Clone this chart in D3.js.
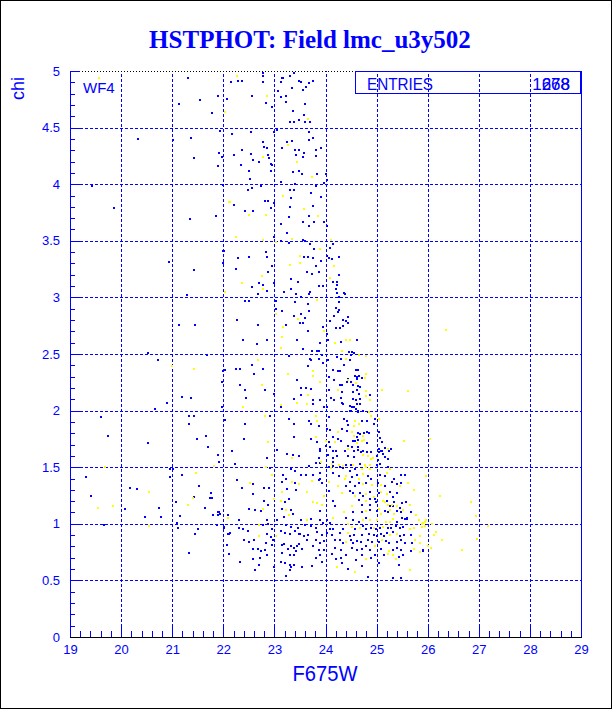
<!DOCTYPE html>
<html>
<head>
<meta charset="utf-8">
<script src="https://cdn.jsdelivr.net/npm/d3@7"></script>
<style>
  body { margin: 0; background: #fff; }
  svg { display: block; }
  text { font-family: "Liberation Sans", Arial, sans-serif; }
</style>
</head>
<body>
<script>
const width = 612;
const height = 709;

const xTicks = [19, 20, 21, 22, 23, 24, 25, 26, 27, 28, 29];
const yTicks = [0, 0.5, 1, 1.5, 2, 2.5, 3, 3.5, 4, 4.5, 5];
const yTickLabels = ['0', '0.5', '1', '1.5', '2', '2.5', '3', '3.5', '4', '4.5', '5'];
const entries = ['1678', '268'];

// [F675W, chi]
const blue = [
  [21.30,4.94],[21.89,4.78],[22.07,4.75],[21.13,4.71],[21.54,4.74],[21.78,4.63],[21.93,4.47],[20.34,4.40],[21.01,4.39],[21.36,4.41],
  [21.91,4.28],[21.98,4.24],[21.42,4.23],[21.89,4.16],[21.99,3.99],[19.44,3.98],[19.86,3.79],[21.34,3.69],[21.86,3.72],[22.01,3.41],
  [20.94,3.31],[21.43,3.24],[21.99,3.30],[21.28,3.02],[21.13,2.76],[21.45,2.76],[20.52,2.51],[20.72,2.45],[21.69,2.49],
  [22.00,2.35],[21.97,2.25],[21.19,2.12],[21.37,2.11],[20.90,2.07],[21.97,2.03],[20.66,2.01],[19.61,1.94],[21.33,1.95],[21.43,1.95],
  [22.04,1.92],[21.33,1.88],[19.74,1.78],[21.67,1.78],[21.48,1.75],[20.53,1.71],[21.71,1.68],[21.89,1.61],[21.92,1.55],[20.95,1.48],
  [21.01,1.48],[21.19,1.43],[19.31,1.41],[20.96,1.41],[21.52,1.33],[20.17,1.32],[20.31,1.31],[21.76,1.27],[19.42,1.25],[21.43,1.24],
  [21.73,1.23],[21.78,1.23],[21.07,1.19],[20.08,1.13],[20.74,1.14],[21.64,1.14],[21.92,1.10],[21.80,1.08],[21.89,1.08],[22.09,1.08],
  [20.78,1.06],[20.47,1.06],[21.15,1.07],[21.09,1.01],[19.66,0.99],[21.87,0.99],[21.11,0.96],[22.01,0.96],[21.50,0.95],[21.45,0.91],
  [22.11,0.91],[22.07,0.81],[22.11,0.73],[21.33,0.74],
  [22.78,4.98],[22.77,4.96],[22.15,4.90],[22.28,4.91],[22.37,4.91],[22.77,4.90],[23.15,4.94],[23.17,4.94],[23.31,4.96],[23.39,4.98],
  [23.49,4.91],[23.53,4.90],[23.76,4.91],[23.13,4.90],[23.34,4.85],[23.56,4.83],[23.61,4.86],[23.68,4.89],[23.08,4.82],[22.56,4.78],
  [23.13,4.77],[23.22,4.78],[23.23,4.73],[22.83,4.72],[23.59,4.71],[22.95,4.68],[23.36,4.65],[23.58,4.61],[23.48,4.57],
  [23.31,4.55],[23.39,4.55],[23.60,4.55],[23.69,4.55],[23.06,4.48],[23.00,4.46],[23.67,4.46],[22.54,4.46],[22.18,4.44],[23.68,4.39],
  [23.75,4.41],[22.78,4.37],[23.24,4.37],[23.34,4.38],[23.15,4.32],[22.79,4.33],[22.85,4.32],[23.40,4.30],[23.48,4.30],[23.57,4.28],
  [23.91,4.32],[23.81,4.30],[22.37,4.30],[22.20,4.26],[22.54,4.27],[22.87,4.26],[23.42,4.26],[23.81,4.25],[22.89,4.23],[23.55,4.24],
  [22.59,4.21],[22.70,4.20],[22.94,4.18],[22.96,4.17],[22.34,4.17],[23.36,4.11],[23.48,4.12],[23.54,4.09],[22.50,4.12],[22.93,4.12],
  [22.52,4.05],[23.12,4.02],[23.83,4.09],[24.00,4.09],[23.98,4.01],[23.82,3.98],[24.02,4.04],[23.31,3.95],[23.38,3.95],[22.48,3.95],
  [22.56,3.97],[22.74,3.98],[23.40,4.00],[23.72,3.92],[23.91,3.89],[23.33,3.88],[22.82,3.85],[22.87,3.85],[22.99,3.83],[23.76,3.81],
  [22.93,3.79],[23.30,3.80],[22.20,3.82],[22.42,3.76],[22.59,3.76],[23.28,3.71],[23.67,3.72],[23.77,3.67],[23.98,3.67],[23.55,3.67],
  [23.13,3.65],[24.02,3.63],[23.68,3.63],[23.25,3.57],[22.99,3.53],[23.12,3.50],[23.29,3.48],[23.56,3.51],[23.60,3.50],[23.70,3.47],
  [23.77,3.43],[24.08,3.44],[24.15,3.47],[22.00,3.41],[22.83,3.40],[23.57,3.36],[23.66,3.36],[23.75,3.35],[24.03,3.37],[24.07,3.35],
  [24.13,3.34],[24.26,3.36],[22.29,3.35],[22.51,3.36],[22.86,3.36],
  [22.95,3.28],[23.81,3.28],[23.92,3.32],[22.24,3.25],[22.87,3.22],[23.64,3.22],[23.74,3.21],[23.88,3.22],[24.26,3.20],[23.32,3.16],
  [23.46,3.14],[24.15,3.14],[24.22,3.14],[24.22,3.11],[22.70,3.13],[22.78,3.11],[23.00,3.13],[23.88,3.10],[23.95,3.10],[22.56,3.09],
  [22.86,3.06],[23.19,3.05],[23.33,3.07],[24.20,3.07],[23.70,3.05],[23.43,3.03],[23.53,3.00],[22.67,3.03],[23.68,3.03],[24.23,3.04],
  [24.36,3.04],[24.38,3.03],[24.26,3.00],[24.26,2.96],[22.43,2.97],[22.50,2.97],[23.04,2.97],[23.40,2.96],[23.65,2.94],[23.04,2.90],
  [23.15,2.88],[23.67,2.88],[24.20,2.91],[24.26,2.89],[24.25,2.87],[23.38,2.84],[23.53,2.85],[24.17,2.84],[24.45,2.83],[23.59,2.82],
  [24.09,2.79],[24.34,2.80],[22.26,2.80],[24.41,2.79],[24.45,2.77],[23.50,2.77],[23.56,2.77],[22.67,2.76],[23.23,2.76],[24.34,2.75],
  [23.96,2.74],[24.21,2.73],[24.28,2.73],[23.66,2.70],[24.03,2.68],[23.45,2.62],[22.85,2.62],[24.04,2.62],[24.30,2.61],[24.62,2.62],
  [23.90,2.60],[22.38,2.62],[22.65,2.59],[23.74,2.53],[23.83,2.53],[23.87,2.53],[23.55,2.54],[24.46,2.52],[24.52,2.52],[24.56,2.51],
  [24.49,2.49],[23.70,2.46],[23.72,2.45],[23.88,2.46],[23.94,2.49],[24.05,2.45],[24.22,2.47],[24.30,2.46],[24.48,2.45],[23.28,2.48],
  [22.57,2.40],[23.66,2.39],[23.95,2.42],[24.36,2.40],[22.04,2.36],[22.25,2.37],[22.32,2.37],[22.77,2.37],[24.15,2.36],[24.24,2.35],
  [24.29,2.35],[24.59,2.36],[24.64,2.36],[22.61,2.32],[24.06,2.30],[24.57,2.31],[24.61,2.30],[22.32,2.23],[23.45,2.27],
  [24.17,2.27],[24.29,2.23],[24.32,2.23],[24.44,2.28],[24.43,2.25],[24.49,2.25],[24.63,2.22],[24.67,2.21],[22.42,2.18],[22.81,2.18],
  [23.53,2.20],[23.62,2.20],[23.72,2.19],[24.07,2.18],[24.33,2.16],[24.53,2.16],[24.61,2.18],[24.66,2.15],[22.99,2.15],[22.45,2.11],
  [23.38,2.10],[23.52,2.14],[23.76,2.09],[23.89,2.09],[24.11,2.11],[24.17,2.09],[24.31,2.11],[24.32,2.07],[24.34,2.06],[24.54,2.10],
  [24.60,2.09],[24.68,2.10],[24.62,2.06],[24.67,2.06],[23.75,2.06],[23.12,2.03],[23.98,2.03],[24.02,2.03],[24.47,2.04],[24.52,2.03],
  [24.56,2.03],[24.60,2.01],[24.64,2.00],[24.47,2.00],[24.50,2.00],[24.64,1.99],[24.74,2.00],[24.83,1.99],[22.04,1.92],[22.92,1.95],
  [23.28,1.93],[23.68,1.91],[24.07,1.94],[24.36,1.93],[24.43,1.91],[24.45,1.87],[24.72,1.91],[24.81,1.91],[22.42,1.88],[23.39,1.88],
  [23.71,1.88],[23.87,1.86],[24.02,1.84],[24.08,1.83],[24.33,1.84],[24.43,1.82],[24.64,1.80],[24.68,1.79],[24.75,1.80],[24.82,1.81],
  [23.38,1.77],[23.72,1.75],[24.15,1.77],[24.24,1.75],[24.62,1.77],[24.86,1.80],[22.40,1.75],[23.84,1.72],[24.07,1.72],[24.30,1.73],
  [24.54,1.73],[24.58,1.73],[24.64,1.74],[24.81,1.71],[24.00,1.69],[24.08,1.68],[24.45,1.69],[24.52,1.68],[24.63,1.68],[22.18,1.64],
  [23.06,1.65],[23.37,1.61],[23.24,1.62],[23.48,1.60],[23.89,1.66],[23.89,1.64],[24.15,1.64],[24.21,1.64],[24.38,1.64],[24.56,1.64],
  [24.63,1.65],[24.69,1.63],[24.73,1.64],[24.81,1.63],[24.05,1.61],[24.15,1.58],[24.23,1.60],[24.45,1.60],[24.55,1.59],[22.85,1.58],
  [23.88,1.58],
  [24.88,2.14],[24.97,1.93],[24.95,1.88],[25.05,1.81],[25.07,1.76],[25.11,1.72],[25.16,1.67],[25.28,1.66],[25.05,1.66],[25.10,1.64],
  [25.13,1.62],[25.00,1.60],[24.62,2.28],[24.54,2.23],[24.71,2.29],[24.58,2.31],[24.65,2.31],
  [22.23,1.53],[22.92,1.49],[23.16,1.43],[23.33,1.48],[23.41,1.47],[23.23,1.40],[23.14,1.37],[23.40,1.36],[22.26,1.39],[22.36,1.32],
  [22.58,1.35],[22.80,1.32],[22.89,1.32],[22.58,1.26],[23.24,1.31],[23.42,1.30],[22.79,1.20],[23.20,1.19],[23.28,1.22],[22.87,1.17],
  [22.50,1.13],[22.63,1.12],[22.73,1.11],[21.90,1.10],[21.93,1.09],[22.09,1.08],[23.14,1.13],[23.32,1.12],[23.19,1.06],[23.37,1.09],
  [22.30,1.03],[22.86,1.03],[22.88,1.00],[22.78,0.99],[23.06,1.03],[23.23,0.99],[23.33,0.97],[23.46,0.96],[21.87,0.99],[22.01,0.97],
  [22.31,0.96],[22.39,0.95],[22.48,0.94],[22.14,0.92],[22.10,0.91],[22.86,0.91],[22.95,0.95],[22.93,0.88],[22.98,0.86],[23.12,0.94],
  [23.21,0.92],[23.30,0.91],[23.40,0.94],[23.49,0.91],[22.07,0.81],[22.41,0.86],[22.50,0.84],[22.61,0.86],[22.83,0.83],[22.96,0.81],
  [23.15,0.81],[23.19,0.82],[23.26,0.78],[23.33,0.80],[23.38,0.79],[23.44,0.80],[23.48,0.82],[23.43,0.76],[22.11,0.73],[22.58,0.78],
  [22.68,0.78],[22.74,0.76],[22.82,0.77],[22.86,0.72],[22.58,0.69],[22.71,0.70],[23.14,0.74],[23.31,0.72],[23.39,0.72],[22.33,0.66],
  [22.69,0.64],[23.13,0.66],[23.21,0.65],[23.31,0.64],[23.33,0.62],[23.38,0.64],[22.62,0.59],[22.99,0.62],[23.31,0.59],[23.22,0.54],
  [24.89,1.63],[25.05,1.63],[25.09,1.64],[25.13,1.62],[25.25,1.64],[25.03,1.56],[25.16,1.59],[25.22,1.57],
  [23.81,1.54],[23.90,1.54],[24.15,1.55],[24.41,1.52],[24.49,1.52],[24.67,1.53],[25.01,1.52],[25.07,1.53],[25.22,1.50],[23.67,1.51],
  [24.07,1.50],[24.15,1.51],[24.28,1.50],[24.47,1.47],[24.57,1.48],[24.35,1.49],
  [23.52,1.43],[23.61,1.43],[23.75,1.43],[23.89,1.45],[23.90,1.40],[24.15,1.45],[24.26,1.42],[24.52,1.41],[24.62,1.43],[24.84,1.42],
  [24.90,1.40],[25.07,1.43],[25.16,1.42],[25.34,1.40],[25.48,1.43],[25.55,1.43],
  [23.87,1.39],[23.94,1.36],[24.41,1.33],[24.48,1.37],[24.58,1.33],[24.65,1.36],[24.80,1.36],[25.02,1.36],[25.17,1.33],[25.31,1.37],
  [25.39,1.35],[25.48,1.36],
  [24.06,1.29],[24.47,1.29],[24.53,1.27],[24.67,1.27],[24.73,1.25],[24.88,1.28],[25.04,1.27],[25.26,1.28],[25.33,1.24],[25.39,1.27],
  [24.15,1.20],[24.65,1.21],[24.88,1.22],[24.96,1.22],[25.21,1.20],[25.34,1.19],
  [24.18,1.16],[24.71,1.17],[24.88,1.17],[24.99,1.19],[25.27,1.16],[25.33,1.16],[25.46,1.14],[25.50,1.18],[25.57,1.19],
  [23.90,1.11],[24.54,1.10],[24.71,1.10],[24.87,1.12],[25.01,1.11],[25.16,1.11],[25.22,1.10],[25.39,1.11],[25.48,1.10],[25.67,1.10],
  [23.53,1.03],[23.72,1.04],[23.89,1.03],[23.96,1.01],[24.02,1.03],[24.09,1.01],[24.40,1.05],[24.54,1.03],[24.66,1.02],[24.80,1.05],
  [25.39,1.02],[25.50,1.05],[25.55,1.04],[25.59,1.04],[25.60,1.05],
  [23.59,0.99],[23.72,0.98],[23.81,0.96],[24.09,0.95],[24.14,0.95],[24.35,0.95],[24.57,0.95],[24.74,0.98],[24.80,0.95],[24.90,0.96],
  [24.99,0.95],[25.07,0.96],[25.22,0.96],[25.29,0.96],[25.37,0.98],[25.46,0.96],[25.52,0.97],
  [23.50,0.91],[23.57,0.89],[23.66,0.90],[23.84,0.93],[23.93,0.90],[24.02,0.92],[24.13,0.90],[24.28,0.92],[24.48,0.89],[24.56,0.90],
  [24.71,0.90],[24.86,0.91],[24.95,0.90],[25.01,0.89],[25.08,0.91],[25.14,0.89],[25.21,0.92],[25.33,0.93],[25.46,0.89],[25.54,0.90],
  [25.68,0.90],
  [23.63,0.86],[23.81,0.86],[23.89,0.83],[23.97,0.85],[24.19,0.86],[24.28,0.86],[24.35,0.83],[24.49,0.86],[24.54,0.83],[24.62,0.85],
  [24.70,0.84],[24.84,0.86],[24.91,0.84],[25.05,0.84],[25.18,0.85],[25.25,0.83],[25.40,0.84],[25.48,0.86],[25.55,0.83],[25.69,0.83],
  [23.54,0.78],[23.76,0.80],[23.87,0.77],[23.98,0.77],[24.19,0.79],[24.31,0.77],[24.52,0.79],[24.62,0.77],[24.71,0.78],[24.79,0.80],
  [24.88,0.77],[25.08,0.78],[25.33,0.77],[25.40,0.79],[25.48,0.77],[25.67,0.76],[25.91,0.77],
  [23.81,0.70],[23.90,0.72],[24.13,0.73],[24.20,0.69],[24.31,0.70],[24.41,0.72],[24.60,0.68],[24.71,0.72],[24.90,0.70],[24.97,0.72],
  [25.14,0.72],[25.43,0.71],[25.52,0.72],
  [23.54,0.62],[23.73,0.63],[23.94,0.66],[24.33,0.65],[24.45,0.60],[24.71,0.63],[25.04,0.65],[25.44,0.64],
  [24.84,0.53],[25.33,0.52],[25.47,0.52],[25.90,0.76]
];

const yellow = [
  [22.03,4.64],[19.57,4.94],[22.12,3.84],[22.03,3.05],
  [20.99,2.39],[21.43,2.37],[21.82,1.51],[19.68,1.50],[21.46,1.45],[20.54,1.28],[21.40,1.23],[21.31,1.17],[19.55,1.14],[19.84,1.16],
  [22.09,1.05],[20.54,0.98],
  [22.26,4.96],[22.85,4.78],[23.66,4.58],[23.26,4.35],[22.78,4.24],[23.45,4.20],[23.73,4.06],[23.16,3.90],[23.57,3.78],[22.13,3.84],
  [22.50,3.73],[22.84,3.73],[23.85,3.72],[22.25,3.53],[22.77,3.51],[23.04,3.49],[23.35,3.52],[23.89,3.43],[24.11,3.51],[23.51,3.37],
  [23.30,3.29],[23.50,3.30],[24.17,3.28],[22.76,3.19],[24.08,3.17],[22.37,3.13],[22.77,3.07],[23.84,2.98],[23.03,2.85],[23.47,2.81],
  [23.16,2.74],[23.97,2.70],[23.14,2.65],[24.19,2.60],[24.41,2.62],[24.48,2.62],[23.12,2.55],[24.33,2.53],[24.66,2.49],[24.79,2.48],
  [24.41,2.46],[22.68,2.45],[23.75,2.35],[23.27,2.32],[23.75,2.31],[24.79,2.32],[22.76,2.23],[23.89,2.25],[24.60,2.24],[24.24,2.18],
  [24.79,2.17],[24.79,2.13],[23.66,2.14],[23.13,2.05],[23.44,2.07],[23.64,2.06],[22.38,2.03],[22.82,1.95],[23.81,1.95],[23.83,1.91],
  [24.58,1.91],[24.65,1.88],[24.56,1.86],[24.24,1.81],[24.51,1.81],[23.81,1.77],[24.55,1.78],[24.73,1.78],[22.87,1.72],[24.00,1.73],
  [24.19,1.72],[24.71,1.73],[24.75,1.74],[24.61,1.71],[24.45,1.66],[23.34,1.58],[24.73,1.61],[24.84,1.60],[24.44,2.27],[24.77,2.29],
  [25.10,2.18],[25.61,2.17],[25.05,1.93],[24.87,2.09],[24.90,1.95],[25.23,1.66],[25.54,1.73],[26.04,1.75],[26.36,2.71],[24.86,1.99],
  [22.83,1.50],[22.95,1.43],[23.34,1.37],[23.48,1.35],[22.52,1.36],[23.15,1.28],[22.99,1.22],[23.13,1.20],[22.78,1.13],[22.10,1.05],
  [23.22,1.12],[23.28,1.08],[22.69,0.99],[22.70,0.89],[23.03,0.89],
  [24.92,1.58],[24.90,1.57],
  [23.92,1.55],[24.13,1.53],[24.26,1.52],[24.35,1.51],[24.54,1.52],[24.78,1.52],[24.80,1.50],[24.87,1.52],[25.27,1.48],[24.11,1.49],
  [24.71,1.48],[24.88,1.48],
  [24.39,1.40],[24.41,1.42],[24.65,1.40],[24.73,1.44],[25.21,1.45],
  [23.73,1.38],[24.06,1.37],[24.24,1.33],[24.73,1.35],[24.91,1.34],[25.09,1.34],[25.46,1.33],[25.61,1.36],[25.73,1.30],[23.63,1.28],
  [23.97,1.25],[24.32,1.27],[24.58,1.25],[24.80,1.26],[24.94,1.24],[25.09,1.28],[25.20,1.26],
  [24.80,1.20],[25.13,1.20],[25.30,1.17],
  [23.75,1.19],[23.83,1.18],[23.93,1.17],[24.52,1.16],[25.17,1.19],[25.22,1.17],[25.39,1.16],[25.65,1.17],
  [24.37,1.10],[24.80,1.11],[25.05,1.13],[25.09,1.09],[25.27,1.12],[25.35,1.09],[25.52,1.12],[25.78,1.08],
  [23.64,1.03],[24.15,1.05],[24.74,1.03],[24.87,1.03],[25.01,1.03],[25.18,1.02],[25.26,1.02],[25.33,1.04],[25.82,1.03],[25.89,1.00],
  [25.95,1.02],
  [24.45,1.00],[24.52,0.97],[24.67,0.96],[24.95,0.96],[25.12,0.97],[25.65,0.95],[25.74,0.96],[25.89,0.97],
  [24.44,0.92],[25.26,0.90],[25.40,0.91],[25.84,0.89],
  [24.41,0.84],[25.10,0.86],[25.76,0.86],[25.85,0.83],
  [24.97,0.80],[25.24,0.76],[25.74,0.78],
  [24.80,0.69],[25.22,0.73],[25.33,0.72],[25.37,0.69],[25.85,0.75],
  [24.22,0.62],[24.57,0.57],[25.65,0.59],
  [25.97,1.42],[26.25,1.25],[26.85,1.19],[26.94,1.07],[27.18,0.98],[25.90,1.01],[25.97,1.03],[25.94,0.98],[26.08,1.00],[26.16,0.93],
  [26.12,0.90],[26.28,0.86],[25.85,0.83],[26.97,0.87],[26.01,0.80],[26.06,0.79],[26.67,0.77]
];

const svg = d3.select('body')
              .append('svg')
              .attr('width', width)
              .attr('height', height);

svg.append('rect')
   .attr('x', 0.5).attr('y', 0.5)
   .attr('width', width - 1).attr('height', height - 1)
   .attr('fill', '#fff')
   .attr('stroke', '#000');

const x = d3.scaleLinear().domain([19, 29]).range([70, 581]);
const y = d3.scaleLinear().domain([0, 5]).range([637, 71]);
const px = v => Math.round(x(v)) + 0.5;
const py = v => Math.round(y(v)) + 0.5;

// dotted grid
const grid = svg.append('g')
                .attr('stroke', '#0000ff')
                .attr('stroke-dasharray', '3,2')
                .attr('shape-rendering', 'crispEdges');

grid.selectAll('.vg')
    .data(xTicks.slice(1))
    .join('line')
    .attr('x1', d => px(d)).attr('x2', d => px(d))
    .attr('y1', y(0)).attr('y2', y(5));

grid.selectAll('.hg')
    .data(yTicks.slice(1, -1))
    .join('line')
    .attr('x1', x(19)).attr('x2', x(29))
    .attr('y1', d => py(d)).attr('y2', d => py(d));

// top edge, dotted black
svg.append('line')
   .attr('x1', x(19)).attr('x2', x(29))
   .attr('y1', py(5)).attr('y2', py(5))
   .attr('stroke', '#000')
   .attr('stroke-dasharray', '1,2')
   .attr('shape-rendering', 'crispEdges');

// axes: minor and major ticks drawn inwards
function styleAxis(g) {
  g.select('.domain').remove();
  g.selectAll('line').attr('stroke', '#0000ff').attr('shape-rendering', 'crispEdges');
  g.selectAll('text')
   .attr('fill', '#0000ff')
   .style('font-family', '"Liberation Sans", Arial, sans-serif')
   .style('font-size', '13px');
}

svg.append('g')
   .attr('transform', `translate(0,${y(0)})`)
   .call(d3.axisBottom(x).tickValues(x.ticks(50)).tickSize(-6).tickFormat(''))
   .call(styleAxis);

svg.append('g')
   .attr('transform', `translate(0,${y(0)})`)
   .call(d3.axisBottom(x).tickValues(xTicks).tickSize(-10).tickPadding(8).tickFormat(d3.format('d')))
   .call(styleAxis);

svg.append('g')
   .attr('transform', `translate(${x(19)},0)`)
   .call(d3.axisLeft(y).tickValues(y.ticks(50)).tickSize(-5).tickFormat(''))
   .call(styleAxis);

svg.append('g')
   .attr('transform', `translate(${x(19)},0)`)
   .call(d3.axisLeft(y).tickValues(yTicks).tickSize(-10).tickPadding(10).tickFormat((d, i) => yTickLabels[i]))
   .call(styleAxis);

// frame lines
svg.append('line')
   .attr('x1', px(19)).attr('x2', px(19))
   .attr('y1', y(5)).attr('y2', y(0) + 1)
   .attr('stroke', '#0000ff').attr('shape-rendering', 'crispEdges');
svg.append('line')
   .attr('x1', x(19)).attr('x2', x(29) + 1)
   .attr('y1', py(0)).attr('y2', py(0))
   .attr('stroke', '#000').attr('shape-rendering', 'crispEdges');
svg.append('line')
   .attr('x1', px(29)).attr('x2', px(29))
   .attr('y1', y(5)).attr('y2', y(0))
   .attr('stroke', '#0000ff').attr('shape-rendering', 'crispEdges');

// points
svg.append('g')
   .selectAll('rect')
   .data(blue)
   .join('rect')
   .attr('x', d => Math.round(x(d[0])) - 1)
   .attr('y', d => Math.round(y(d[1])) - 1)
   .attr('width', 2).attr('height', 2)
   .attr('fill', '#0000ff')
   .attr('shape-rendering', 'crispEdges');

svg.append('g')
   .selectAll('rect')
   .data(yellow)
   .join('rect')
   .attr('x', d => Math.round(x(d[0])) - 1)
   .attr('y', d => Math.round(y(d[1])) - 1)
   .attr('width', 2).attr('height', 2)
   .attr('fill', '#ffff00')
   .attr('shape-rendering', 'crispEdges');

// stats box
svg.append('rect')
   .attr('x', 355.5).attr('y', 71.5)
   .attr('width', 225).attr('height', 22)
   .attr('fill', 'none')
   .attr('stroke', '#0000ff')
   .attr('shape-rendering', 'crispEdges');

svg.append('text')
   .attr('x', 367).attr('y', 90)
   .attr('fill', '#0000ff')
   .attr('font-size', 17)
   .attr('textLength', 66).attr('lengthAdjust', 'spacingAndGlyphs')
   .text('ENTRIES');

svg.selectAll('.entries')
   .data(entries)
   .join('text')
   .attr('x', 570).attr('y', 90)
   .attr('text-anchor', 'end')
   .attr('fill', '#0000ff')
   .attr('font-size', 17)
   .text(d => d);

// labels
svg.append('text')
   .attr('x', 310).attr('y', 48)
   .attr('text-anchor', 'middle')
   .attr('fill', '#0000ff')
   .style('font-family', '"Liberation Serif", "Times New Roman", serif')
   .style('font-weight', 'bold')
   .style('font-size', '25px')
   .text('HSTPHOT: Field lmc_u3y502');

svg.append('text')
   .attr('x', 83).attr('y', 93)
   .attr('fill', '#0000ff')
   .attr('font-size', 15)
   .text('WF4');

svg.append('text')
   .attr('transform', 'translate(24,100) rotate(-90)')
   .attr('fill', '#0000ff')
   .attr('font-size', 18)
   .text('chi');

svg.append('text')
   .attr('x', 325).attr('y', 681)
   .attr('text-anchor', 'middle')
   .attr('fill', '#0000ff')
   .attr('font-size', 22)
   .attr('textLength', 65).attr('lengthAdjust', 'spacingAndGlyphs')
   .text('F675W');
</script>
</body>
</html>
